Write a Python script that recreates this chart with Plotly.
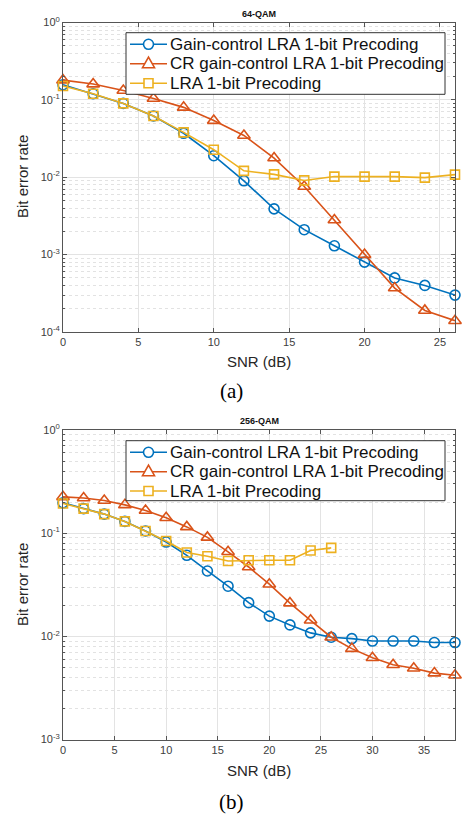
import plotly.graph_objects as go

# ---------------- data ----------------
snr_a = [0, 2, 4, 6, 8, 10, 12, 14, 16, 18, 20, 22, 24, 26]
gc_a = [0.157, 0.12, 0.09, 0.062, 0.037, 0.019, 0.009, 0.0039, 0.0021, 0.0013, 0.0008, 0.0005, 0.0004, 0.0003]
cr_a = [0.18, 0.16, 0.132, 0.104, 0.08, 0.054, 0.0347, 0.0177, 0.0076, 0.0028, 0.001, 0.00037, 0.00019, 0.00014]
lra_a = [0.151, 0.12, 0.09, 0.062, 0.038, 0.0227, 0.0121, 0.0109, 0.0091, 0.0102, 0.0102, 0.0102, 0.0099, 0.0108]

snr_b = [0, 2, 4, 6, 8, 10, 12, 14, 16, 18, 20, 22, 24, 26, 28, 30, 32, 34, 36, 38]
gc_b = [0.197, 0.173, 0.153, 0.13, 0.105, 0.082, 0.061, 0.043, 0.0306, 0.0212, 0.0157, 0.0129, 0.0108,
        0.0098, 0.0095, 0.009, 0.009, 0.009, 0.0087, 0.0087]
cr_b = [0.225, 0.219, 0.207, 0.188, 0.166, 0.141, 0.115, 0.091, 0.066, 0.047, 0.032, 0.021, 0.0143,
        0.0098, 0.0076, 0.0062, 0.0053, 0.0049, 0.0044, 0.0042]
snr_b_lra = [0, 2, 4, 6, 8, 10, 12, 14, 16, 18, 20, 22, 24, 26]
lra_b = [0.194, 0.173, 0.153, 0.13, 0.105, 0.084, 0.065, 0.0598, 0.0538, 0.0547, 0.0547, 0.0547, 0.068, 0.072]

names = ["Gain-control LRA 1-bit Precoding", "CR gain-control LRA 1-bit Precoding", "LRA 1-bit Precoding"]
colors = ["#0072BD", "#D95319", "#EDB120"]
symbols = ["circle-open", "triangle-up-open", "square-open"]
msizes = [10, 11, 9]

xticks_a = [0, 5, 10, 15, 20, 25]
xticks_b = [0, 5, 10, 15, 20, 25, 30, 35]
yexp_a = [-4, -3, -2, -1, 0]
yexp_b = [-3, -2, -1, 0]

W, H = 463, 819
FONT = "Liberation Sans, Arial, sans-serif"

def px(x):
    return x / W

def py(y):
    return 1 - y / H

fig = go.Figure()

def add_series(xs, ys, i, xa, ya):
    fig.add_trace(go.Scatter(
        x=xs, y=ys, name=names[i], mode="lines+markers", cliponaxis=False, showlegend=False,
        line=dict(color=colors[i], width=1.6),
        marker=dict(symbol=symbols[i], size=msizes[i], color=colors[i], line=dict(width=1.6, color=colors[i])),
        xaxis=xa, yaxis=ya))

add_series(snr_a, gc_a, 0, "x", "y")
add_series(snr_a, cr_a, 1, "x", "y")
add_series(snr_a, lra_a, 2, "x", "y")
add_series(snr_b, gc_b, 0, "x2", "y2")
add_series(snr_b, cr_b, 1, "x2", "y2")
add_series(snr_b_lra, lra_b, 2, "x2", "y2")

def minor_vals(exps):
    vals = []
    for e in exps[:-1]:
        for m in range(2, 10):
            vals.append(m * 10 ** e)
    return vals

axis_common = dict(showline=True, linecolor="#555555", linewidth=1, mirror="ticks",
                   ticks="inside", ticklen=4, tickcolor="#555555", automargin=False,
                   tickfont=dict(family=FONT, size=11, color="#404040"),
                   showgrid=True, gridcolor="#e3e3e3", gridwidth=1, zeroline=False)

x_left, x_right = px(63), px(455)
dom_a = [py(332), py(22.5)]
dom_b = [py(739.5), py(430)]

fig.update_layout(
    width=W, height=H, margin=dict(l=0, r=0, t=0, b=0, autoexpand=False),
    paper_bgcolor="white", plot_bgcolor="white",
    font=dict(family=FONT), showlegend=False,
    xaxis=dict(domain=[x_left, x_right], anchor="y", range=[0, 26], tickvals=xticks_a, **axis_common),
    yaxis=dict(domain=dom_a, anchor="x", type="log", range=[-4, 0],
               tickvals=[10 ** e for e in yexp_a],
               ticktext=["10<sup>%d</sup>" % e for e in yexp_a],
               minor=dict(tickvals=minor_vals(yexp_a), ticks="inside", ticklen=2, tickcolor="#555555",
                          showgrid=True, gridcolor="#e2e2e2", griddash="dot", gridwidth=1),
               **axis_common),
    xaxis2=dict(domain=[x_left, x_right], anchor="y2", range=[0, 38], tickvals=xticks_b, **axis_common),
    yaxis2=dict(domain=dom_b, anchor="x2", type="log", range=[-3, 0],
                tickvals=[10 ** e for e in yexp_b],
                ticktext=["10<sup>%d</sup>" % e for e in yexp_b],
                minor=dict(tickvals=minor_vals(yexp_b), ticks="inside", ticklen=2, tickcolor="#555555",
                           showgrid=True, gridcolor="#e2e2e2", griddash="dot", gridwidth=1),
                **axis_common),
)

ann = []
shapes = []
xc = (x_left + x_right) / 2
ann.append(dict(text="<b>64-QAM</b>", x=xc, y=py(14), font=dict(size=9, color="#111111")))
ann.append(dict(text="<b>256-QAM</b>", x=xc, y=py(421), font=dict(size=9, color="#111111")))
ann.append(dict(text="SNR (dB)", x=xc, y=py(361), font=dict(size=15, color="#262626")))
ann.append(dict(text="SNR (dB)", x=xc, y=py(770), font=dict(size=15, color="#262626")))
ann.append(dict(text="Bit error rate", x=px(22), y=py(177), textangle=-90, font=dict(size=15, color="#262626")))
ann.append(dict(text="Bit error rate", x=px(22), y=py(585), textangle=-90, font=dict(size=15, color="#262626")))
ann.append(dict(text="(a)", x=px(232), y=py(391), font=dict(family="Liberation Serif, Times New Roman, serif", size=21, color="black")))
ann.append(dict(text="(b)", x=px(232), y=py(802), font=dict(family="Liberation Serif, Times New Roman, serif", size=21, color="black")))
for a in ann:
    a.update(xanchor="center")

# ---- legends (drawn as box + symbols + text, MATLAB style) ----
def add_legend(box_top, box_bottom, rows):
    shapes.append(dict(type="rect", xref="paper", yref="paper",
                       x0=px(126), x1=px(445), y0=py(box_bottom), y1=py(box_top),
                       fillcolor="white", line=dict(color="#333333", width=1), layer="above"))
    for i, ry in enumerate(rows):
        c = colors[i]
        shapes.append(dict(type="line", xref="paper", yref="paper", x0=px(130), x1=px(167),
                           y0=py(ry), y1=py(ry), line=dict(color=c, width=1.6), layer="above"))
        cx = 148.5
        if i == 0:
            shapes.append(dict(type="circle", xref="paper", yref="paper", x0=px(cx - 5), x1=px(cx + 5),
                               y0=py(ry + 5), y1=py(ry - 5), fillcolor="white",
                               line=dict(color=c, width=1.6), layer="above"))
        elif i == 1:
            path = "M %f %f L %f %f L %f %f Z" % (px(cx), py(ry - 6.5), px(cx - 6), py(ry + 4),
                                                 px(cx + 6), py(ry + 4))
            shapes.append(dict(type="path", xref="paper", yref="paper", path=path, fillcolor="white",
                               line=dict(color=c, width=1.6), layer="above"))
        else:
            shapes.append(dict(type="rect", xref="paper", yref="paper", x0=px(cx - 4.5), x1=px(cx + 4.5),
                               y0=py(ry + 4.5), y1=py(ry - 4.5), fillcolor="white",
                               line=dict(color=c, width=1.6), layer="above"))
        ann.append(dict(text=names[i], x=px(168), y=py(ry), xanchor="left",
                        font=dict(size=17, color="#111111")))

add_legend(32.7, 94.3, [44.3, 63.7, 83.2])
add_legend(440.7, 500.7, [452.3, 471.7, 491.0])

for a in ann:
    a.update(xref="paper", yref="paper", showarrow=False, yanchor="middle")
    a.setdefault("font", {})
    a["font"].setdefault("family", FONT)
fig.update_layout(annotations=ann, shapes=shapes)

fig.write_html("out.html", config={"displayModeBar": False},
               post_script="document.body.style.margin='0px';")
